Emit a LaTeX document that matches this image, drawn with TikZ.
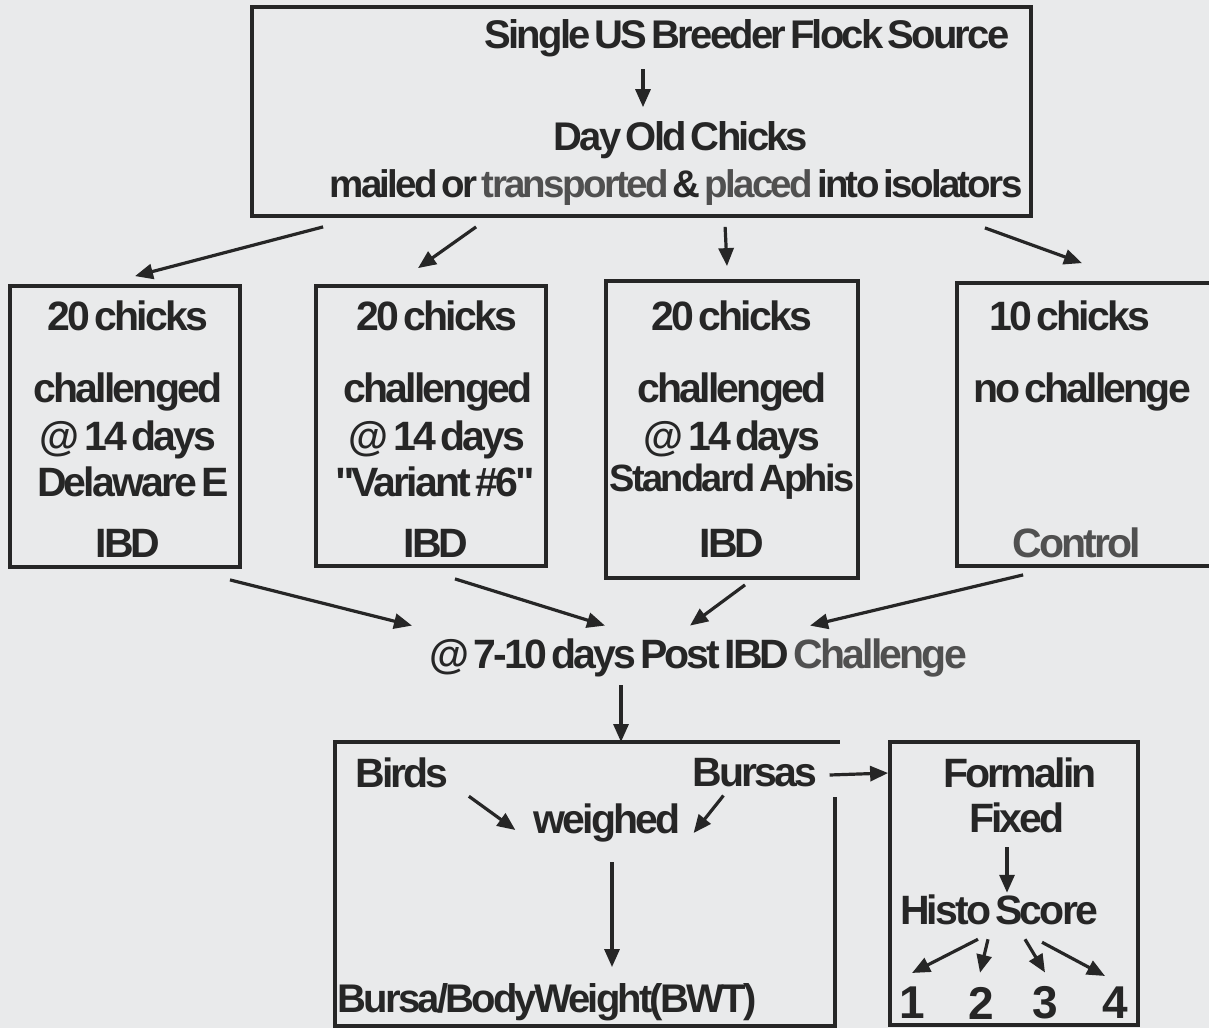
\documentclass[tikz,border=0pt]{standalone}
\usepackage{fontspec}
\newfontfamily\df[LetterSpace=-7,WordSpace=0.5]{Liberation Sans}
\usetikzlibrary{arrows.meta,calc}
\definecolor{bg}{HTML}{E9EAEB}
\definecolor{ink}{HTML}{262626}
\definecolor{ink2}{HTML}{505050}
\begin{document}
\begin{tikzpicture}[x=1pt,y=-1pt,
  txt/.style={inner sep=0pt, text=ink, font=\df\bfseries\fontsize{41}{45}\selectfont},
  toptxt/.style={inner sep=0pt, text=ink, font=\df\bfseries\fontsize{40}{44}\selectfont},
  big/.style={inner sep=0pt, text=ink, font=\df\bfseries\fontsize{46}{50}\selectfont},
  box/.style={draw=ink, line width=3.8pt, inner sep=0pt},
  boxline/.style={draw=ink, line width=3.8pt},
  arr/.style={draw=ink, line width=3.2pt, -{Triangle[length=18pt,width=15pt]}}]
\clip (0,0) rectangle (1209,1028);
\fill[bg] (0,0) rectangle (1209,1028);

% top box
\node[box, minimum width=779pt, minimum height=209pt] (top) at (641.5,111.5) {};
\node[toptxt] (t1) at (747,38) {Single US Breeder Flock Source};
\node[toptxt] (t2) at (681,140) {Day Old Chicks};
\node[toptxt, font=\df\bfseries\fontsize{38.5}{42}\selectfont] (t3) at (676,188) {mailed or \textcolor{ink2}{transported} \& \textcolor{ink2}{placed} into isolators};
\draw[arr] ($(t2.north)+(-38,-52)$) -- ($(t2.north)+(-38,-14)$);

% four boxes
\node[box, minimum width=230pt, minimum height=281pt] (b1) at (125,426.5) {};
\node[box, minimum width=230pt, minimum height=280pt] (b2) at (431,426) {};
\node[box, minimum width=252pt, minimum height=297pt] (b3) at (732,429.5) {};
\node[box, minimum width=290pt, minimum height=283pt] (b4) at (1102,424.5) {};

\node[txt] (b1a) at (128,316) {20 chicks};
\node[txt] (b1b) at (128,392) {challenged};
\node[txt] (b1c) at (128,440) {@ 14 days};
\node[txt] (b1d) at (133,482) {Delaware E};
\node[txt] (b1e) at (128,543) {IBD};

\node[txt] (b2a) at (437,316) {20 chicks};
\node[txt] (b2b) at (438,392) {challenged};
\node[txt] (b2c) at (437,440) {@ 14 days};
\node[txt] (b2d) at (435,482) {"Variant \#6"};
\node[txt] (b2e) at (436,543) {IBD};

\node[txt] (b3a) at (732,316) {20 chicks};
\node[txt] (b3b) at (732,392) {challenged};
\node[txt] (b3c) at (732,440) {@ 14 days};
\node[txt, font=\df\bfseries\fontsize{38}{42}\selectfont] (b3d) at (732,482) {Standard Aphis};
\node[txt] (b3e) at (732,543) {IBD};

\node[txt] (b4a) at (1070,316) {10 chicks};
\node[txt] (b4b) at (1082,392) {no challenge};
\node[txt, text=ink2] (b4e) at (1077,543) {Control};

\draw[arr] ($(top.south west)+(73,9)$) -- ($(b1.north)+(10,-8)$);
\draw[arr] ($(top.south west)+(226,9)$) -- ($(b2.north)+(-13,-16)$);
\draw[arr] ($(top.south west)+(475,9)$) -- ($(b3.north)+(-5,-13)$);
\draw[arr] ($(top.south east)+(-48,10)$) -- ($(b4.north)+(-20,-18)$);

% middle
\node[txt] (mid) at (698,658) {@ 7-10 days Post IBD \textcolor{ink2}{Challenge}};
\draw[arr] ($(b1.south)+(105,11)$) -- ($(mid.north)+(-286,-13)$);
\draw[arr] ($(b2.south)+(24,11)$) -- ($(mid.north)+(-93,-13)$);
\draw[arr] ($(b3.south)+(13,5)$) -- ($(mid.north)+(-8,-13)$);
\draw[arr] ($(b4.south west)+(68,7)$) -- ($(mid.north)+(112,-13)$);

% bottom-left box
\coordinate (blt) at (621,742);
\coordinate (blr) at (835,797);
\draw[boxline] (blr) -- (835,1026) -- (335,1026) -- (335,742) -- (840,742);
\draw[arr] (mid.south -| blt) ++(0,8) -- (blt);

\node[txt] (birds) at (402,773) {Birds};
\node[txt] (bursas) at (755,773) {Bursas};
\node[txt] (weighed) at (607,823) {weighed};
\node[txt, font=\df\bfseries\fontsize{40}{44}\selectfont] (bwt) at (547,1002) {Bursa/BodyWeight(BWT)};
\draw[arr] ($(birds.south east)+(20,8)$) -- ($(weighed.west)+(-18,7)$);
\draw[arr] ($(bursas.south west)+(31,8)$) -- ($(weighed.east)+(13,10)$);
\draw[arr] ($(weighed.south)+(5,20)$) -- ($(bwt.north)+(65,-16)$);

% right box
\node[box, minimum width=248pt, minimum height=283pt] (rb) at (1014,883.5) {};
\draw[arr] ($(bursas.east)+(12,2)$) -- (rb.west |- bursas.east);
\node[txt] (form) at (1020,773) {Formalin};
\node[txt] (fixed) at (1017,818) {Fixed};
\node[txt] (histo) at (999,910) {Histo Score};
\draw[arr] ($(fixed.south)+(-10,14)$) -- ($(histo.north)+(8,-2)$);
\node[big] (n1) at (912,1003) {1};
\node[big] (n2) at (981,1003) {2};
\node[big] (n3) at (1045,1003) {3};
\node[big] (n4) at (1115,1003) {4};
\draw[arr] ($(histo.south)+(-21,14)$) -- ($(n1.north)+(0,-14)$);
\draw[arr] ($(histo.south)+(-11,14)$) -- ($(n2.north)+(-1,-14)$);
\draw[arr] ($(histo.south)+(26,14)$) -- ($(n3.north)+(0,-14)$);
\draw[arr] ($(histo.south)+(43,17)$) -- ($(n4.north)+(-10,-11)$);
\end{tikzpicture}
\end{document}
